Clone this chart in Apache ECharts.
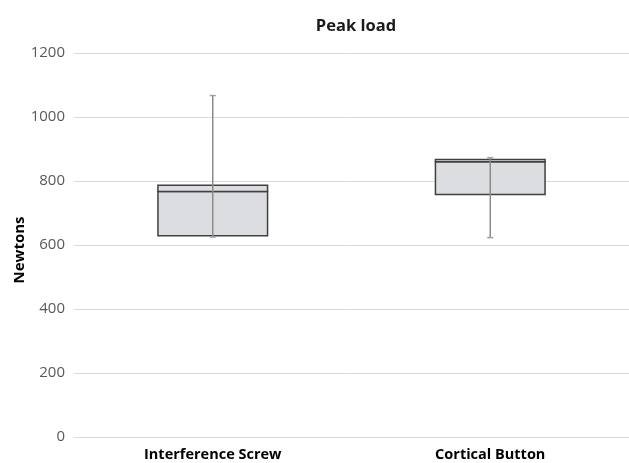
<!DOCTYPE html>
<html><head><meta charset="utf-8">
<script src="https://cdn.jsdelivr.net/npm/echarts@6/dist/echarts.min.js"></script>
<style>html,body{margin:0;padding:0;background:#fff}#c{width:629px;height:463px}</style>
</head><body><div id="c"></div>
<script>
var categories = ['Interference Screw', 'Cortical Button'];
var minVals = [625, 623];
var q1Vals = [629, 758];
var medianVals = [767, 860];
var q3Vals = [787, 867];
var maxVals = [1067, 873];
var yTicks = [0, 200, 400, 600, 800, 1000, 1200];

var data = categories.map(function (c, i) {
  return [i, minVals[i], q1Vals[i], medianVals[i], q3Vals[i], maxVals[i]];
});

var FONT = 'Open Sans';
var chart = echarts.init(document.getElementById('c'));
chart.setOption({
  animation: false,
  title: {
    text: 'Peak load', left: 351, top: 13, textAlign: 'center',
    textStyle: { fontFamily: FONT, fontSize: 16.5, fontWeight: 'bold', color: '#1a1a1a' }
  },
  grid: { left: 74, right: 0, top: 53, bottom: 26, containLabel: false, outerBoundsMode: 'none' },
  xAxis: {
    type: 'category', data: categories,
    axisLine: { lineStyle: { color: '#d9d9d9' } },
    axisTick: { show: false },
    axisLabel: { fontFamily: FONT, fontSize: 14.5, fontWeight: 'bold', color: '#000', margin: 10 }
  },
  yAxis: {
    type: 'value', min: yTicks[0], max: yTicks[yTicks.length - 1], interval: 200,
    name: 'Newtons', nameLocation: 'middle', nameGap: 47, nameRotate: 90, nameMoveOverlap: false,
    nameTextStyle: { fontFamily: FONT, fontSize: 15, fontWeight: 'bold', color: '#000', padding: [0, 10, 0, 0] },
    axisLine: { show: false }, axisTick: { show: false },
    axisLabel: { fontFamily: FONT, fontSize: 15, color: '#595959', margin: 9, formatter: function (v) { return String(v); } },
    splitLine: { lineStyle: { color: '#d9d9d9' } }
  },
  series: [{
    type: 'custom',
    data: data,
    encode: { x: 0, y: [1, 2, 3, 4, 5] },
    renderItem: function (params, api) {
      var idx = api.value(0);
      var band = api.size([1, 0])[0];
      var w = band * 0.395;
      var pMin = api.coord([idx, api.value(1)]);
      var pQ1 = api.coord([idx, api.value(2)]);
      var pMed = api.coord([idx, api.value(3)]);
      var pQ3 = api.coord([idx, api.value(4)]);
      var pMax = api.coord([idx, api.value(5)]);
      var x = pMed[0];
      var boxStyle = { fill: '#dcdde0', stroke: '#404040', lineWidth: 1.5 };
      var whisk = { stroke: '#8c8c8c', lineWidth: 1.5 };
      return {
        type: 'group',
        children: [
          { type: 'rect', shape: { x: x - w / 2, y: pMed[1], width: w, height: pQ1[1] - pMed[1] }, style: boxStyle },
          { type: 'rect', shape: { x: x - w / 2, y: pQ3[1], width: w, height: pMed[1] - pQ3[1] }, style: boxStyle },
          { type: 'line', shape: { x1: x, y1: pMin[1], x2: x, y2: pMax[1] }, style: whisk },
          { type: 'line', shape: { x1: x - 3, y1: pMax[1], x2: x + 3, y2: pMax[1] }, style: { stroke: '#a0a0a0', lineWidth: 1.5 } },
          { type: 'line', shape: { x1: x - 3, y1: pMin[1], x2: x + 3, y2: pMin[1] }, style: { stroke: '#a0a0a0', lineWidth: 1.5 } }
        ]
      };
    }
  }]
});
</script></body></html>
